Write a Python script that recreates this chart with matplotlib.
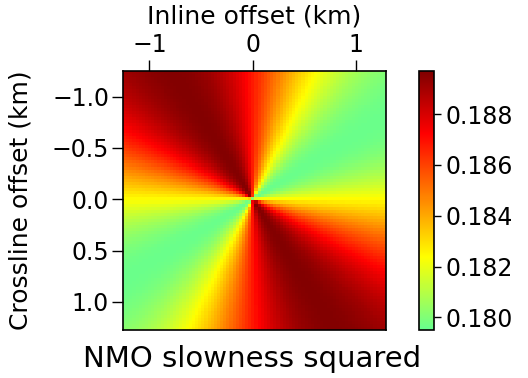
import numpy as np
import matplotlib
matplotlib.use('Agg')
import matplotlib.pyplot as plt
from matplotlib.colors import LinearSegmentedColormap

# elliptic NMO slowness squared
w_min = 0.1796        # along the fast direction
w_max = 0.1896        # along the slow direction
fast_azimuth = 32.0   # degrees, counter-clockwise from +inline on screen
n_cells = 84
x_extent = [-1.255, 1.29]
y_extent = [-1.25, 1.275]
clim = [0.1795, 0.1897]
x_ticks = [-1, 0, 1]
y_ticks = [-1.0, -0.5, 0.0, 0.5, 1.0]
cbar_ticks = [0.180, 0.182, 0.184, 0.186, 0.188]

cmap = LinearSegmentedColormap.from_list('nmo', [
    (0.00, (0.40, 1.00, 0.56)),
    (0.28, (1.00, 1.00, 0.00)),
    (0.52, (1.00, 0.50, 0.00)),
    (0.76, (1.00, 0.00, 0.00)),
    (1.00, (0.50, 0.00, 0.00)),
])

dx = (x_extent[1] - x_extent[0]) / n_cells
dy = (y_extent[1] - y_extent[0]) / n_cells
xc = x_extent[0] + dx * (np.arange(n_cells) + 0.5)
yc = y_extent[0] + dy * (np.arange(n_cells) + 0.5)
X, Y = np.meshgrid(xc, yc)
phi = np.arctan2(-Y, X) - np.radians(fast_azimuth)
W = w_min * np.cos(phi)**2 + w_max * np.sin(phi)**2

plt.rcParams['font.family'] = 'DejaVu Sans'
fig = plt.figure(figsize=(5.28, 3.78), dpi=100)
ax = fig.add_axes([0.233, 0.127, 0.498, 0.685])
im = ax.imshow(W, cmap=cmap, vmin=clim[0], vmax=clim[1], aspect='auto',
               interpolation='nearest', origin='upper',
               extent=[x_extent[0], x_extent[1], y_extent[1], y_extent[0]])
ax.xaxis.tick_top()
ax.xaxis.set_label_position('top')
ax.set_xticks(x_ticks)
ax.set_xticklabels(['\u22121', '0', '1'])
ax.set_yticks(y_ticks)
ax.set_yticklabels(['\u22121.0', '\u22120.5', '0.0', '0.5', '1.0'])
ax.tick_params(labelsize=17, length=8, width=1, pad=2)
ax.set_xlabel('Inline offset (km)', fontsize=18, labelpad=7)
ax.set_ylabel('Crossline offset (km)', fontsize=18, labelpad=14)
for s in ax.spines.values():
    s.set_linewidth(1.2)

cax = fig.add_axes([0.7936, 0.127, 0.0284, 0.685])
cb = fig.colorbar(im, cax=cax, ticks=cbar_ticks)
cb.ax.set_yticklabels(['%.3f' % t for t in cbar_ticks])
cb.ax.tick_params(labelsize=17, length=5, width=1, pad=3)
cb.outline.set_linewidth(1.2)

fig.text(0.477, 0.05, 'NMO slowness squared', fontsize=21, ha='center', va='center')

plt.savefig('out.png', dpi=100)
